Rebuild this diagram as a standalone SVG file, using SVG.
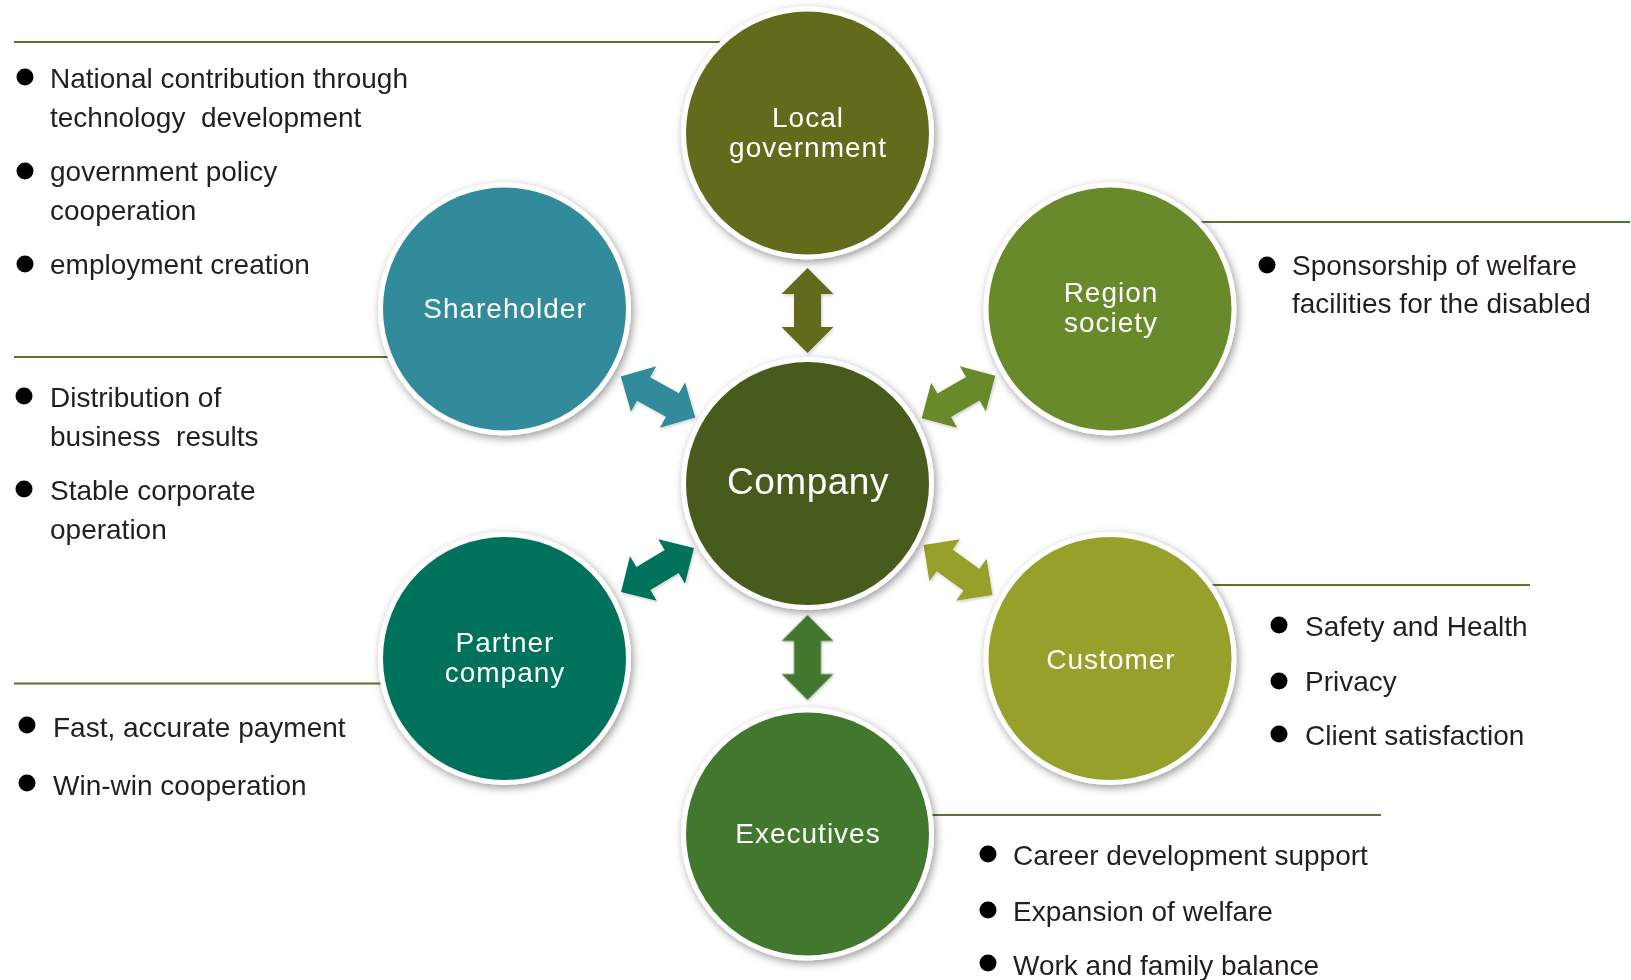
<svg xmlns="http://www.w3.org/2000/svg" width="1631" height="980" viewBox="0 0 1631 980">
<style>
.lbl{font-family:"Liberation Sans",Arial,sans-serif;font-size:28px;fill:#fff;text-anchor:middle;letter-spacing:1px}
.big{font-size:37px;letter-spacing:0.5px}
.txt{font-family:"Liberation Sans",Arial,sans-serif;font-size:28px;fill:#231f20}
.rule{stroke:#5b7430;stroke-width:2;fill:none}
.node circle.c{stroke:#fff;stroke-width:5;filter:url(#sh)}
</style>
<defs>
<filter id="sh" x="-20%" y="-20%" width="140%" height="140%">
<feDropShadow dx="2" dy="3" stdDeviation="4" flood-color="#000" flood-opacity="0.4"/>
</filter>
<filter id="sh2" x="-20%" y="-20%" width="140%" height="140%">
<feDropShadow dx="1" dy="1.5" stdDeviation="1.5" flood-color="#000" flood-opacity="0.2"/>
</filter>
<path id="dbl" d="M-42.5,0 L-16.5,-26 L-16.5,-13.5 L16.5,-13.5 L16.5,-26 L42.5,0 L16.5,26 L16.5,13.5 L-16.5,13.5 L-16.5,26 Z"/>
</defs>
<rect width="1631" height="980" fill="#fff"/>

<g id="rules">
<line class="rule" x1="14" y1="42" x2="720" y2="42"/>
<line class="rule" x1="14" y1="357" x2="390" y2="357"/>
<line class="rule" x1="14" y1="683.5" x2="384" y2="683.5"/>
<line class="rule" x1="1198" y1="222" x2="1630" y2="222"/>
<line class="rule" x1="1208" y1="585" x2="1530" y2="585"/>
<line class="rule" x1="930" y1="815" x2="1381" y2="815"/>
</g>

<g id="connectors" filter="url(#sh2)">
<use href="#dbl" fill="#626a1e" transform="translate(807.5,310.5) rotate(90)"/>
<use href="#dbl" fill="#43782d" transform="translate(807.5,657.5) rotate(90)"/>
<use href="#dbl" fill="#338b9a" transform="translate(658,397) rotate(29)"/>
<use href="#dbl" fill="#688a29" transform="translate(958.5,397) rotate(-30)"/>
<use href="#dbl" fill="#02715a" transform="translate(657.5,570) rotate(-31)"/>
<use href="#dbl" fill="#96a02b" transform="translate(958,570) rotate(36)"/>
</g>

<g id="local-government" class="node">
<circle class="c" cx="807.5" cy="133" r="124" fill="#626a1e"/>
<text class="lbl" x="808" y="127">Local</text>
<text class="lbl" x="808" y="157">government</text>
</g>
<g id="shareholder" class="node">
<circle class="c" cx="504.5" cy="309" r="124" fill="#338b9a"/>
<text class="lbl" x="505" y="318">Shareholder</text>
</g>
<g id="region-society" class="node">
<circle class="c" cx="1110" cy="309" r="124" fill="#688a29"/>
<text class="lbl" x="1111" y="302">Region</text>
<text class="lbl" x="1111" y="332">society</text>
</g>
<g id="company" class="node">
<circle class="c" cx="807.5" cy="483.5" r="124" fill="#475c1a"/>
<text class="lbl big" x="808" y="494">Company</text>
</g>
<g id="partner-company" class="node">
<circle class="c" cx="504.5" cy="658.5" r="124" fill="#02715a"/>
<text class="lbl" x="505" y="652">Partner</text>
<text class="lbl" x="505" y="682">company</text>
</g>
<g id="customer" class="node">
<circle class="c" cx="1110" cy="658.5" r="124" fill="#96a02b"/>
<text class="lbl" x="1111" y="669">Customer</text>
</g>
<g id="executives" class="node">
<circle class="c" cx="807.5" cy="834" r="124" fill="#43782d"/>
<text class="lbl" x="808" y="843">Executives</text>
</g>

<g id="list-local-government">
<circle cx="25" cy="77" r="8.5" fill="#000"/>
<text class="txt" x="50" y="88">National contribution through</text>
<text class="txt" x="50" y="127" xml:space="preserve">technology  development</text>
<circle cx="25" cy="171" r="8.5" fill="#000"/>
<text class="txt" x="50" y="181">government policy</text>
<text class="txt" x="50" y="220">cooperation</text>
<circle cx="25" cy="264" r="8.5" fill="#000"/>
<text class="txt" x="50" y="274">employment creation</text>
</g>
<g id="list-shareholder">
<circle cx="24" cy="396" r="8.5" fill="#000"/>
<text class="txt" x="50" y="407">Distribution of</text>
<text class="txt" x="50" y="446" xml:space="preserve">business  results</text>
<circle cx="24" cy="489" r="8.5" fill="#000"/>
<text class="txt" x="50" y="500">Stable corporate</text>
<text class="txt" x="50" y="539">operation</text>
</g>
<g id="list-partner">
<circle cx="27" cy="725" r="8.5" fill="#000"/>
<text class="txt" x="53" y="737">Fast, accurate payment</text>
<circle cx="27" cy="783" r="8.5" fill="#000"/>
<text class="txt" x="53" y="795">Win-win cooperation</text>
</g>
<g id="list-region">
<circle cx="1267" cy="265" r="8.5" fill="#000"/>
<text class="txt" x="1292" y="275">Sponsorship of welfare</text>
<text class="txt" x="1292" y="313">facilities for the disabled</text>
</g>
<g id="list-customer">
<circle cx="1279" cy="625" r="8.5" fill="#000"/>
<text class="txt" x="1305" y="636">Safety and Health</text>
<circle cx="1279" cy="681" r="8.5" fill="#000"/>
<text class="txt" x="1305" y="691">Privacy</text>
<circle cx="1279" cy="734" r="8.5" fill="#000"/>
<text class="txt" x="1305" y="745">Client satisfaction</text>
</g>
<g id="list-executives">
<circle cx="988" cy="854" r="8.5" fill="#000"/>
<text class="txt" x="1013" y="865">Career development support</text>
<circle cx="988" cy="910" r="8.5" fill="#000"/>
<text class="txt" x="1013" y="921">Expansion of welfare</text>
<circle cx="988" cy="963" r="8.5" fill="#000"/>
<text class="txt" x="1013" y="975">Work and family balance</text>
</g>
</svg>
